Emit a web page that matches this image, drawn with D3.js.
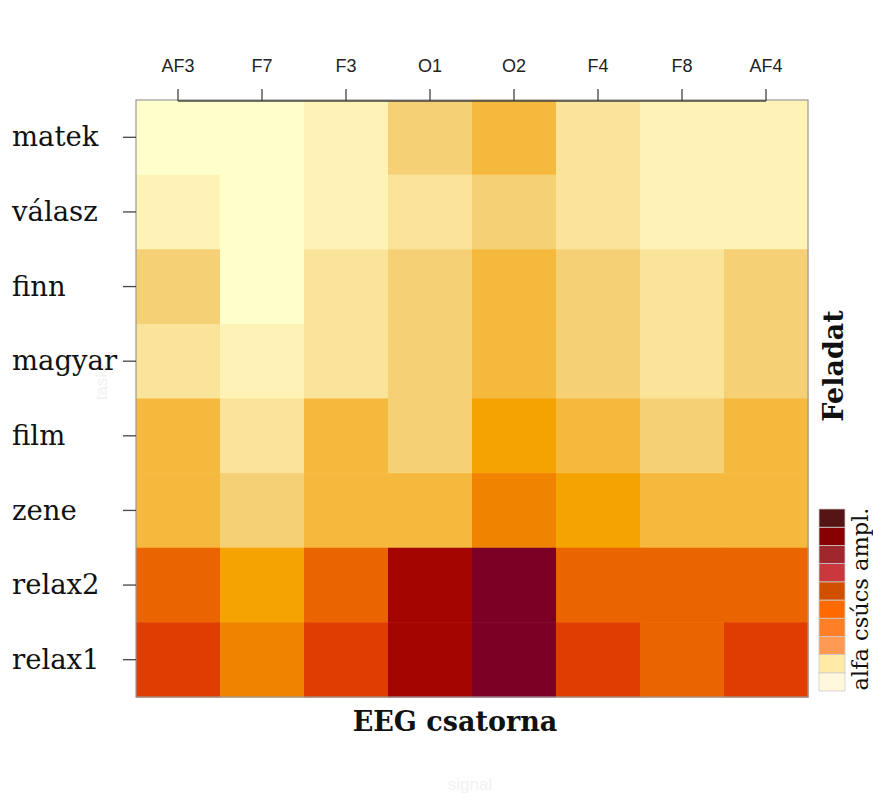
<!DOCTYPE html>
<html>
<head>
<meta charset="utf-8">
<script src="https://cdn.jsdelivr.net/npm/d3@7"></script>
<style>
body { margin: 0; background: #fff; }
</style>
</head>
<body>
<svg id="chart" width="873" height="793"></svg>
<script>
// EEG channels (columns) and tasks (rows)
var channels = ["AF3", "F7", "F3", "O1", "O2", "F4", "F8", "AF4"];
var tasks = ["matek", "válasz", "finn", "magyar", "film", "zene", "relax2", "relax1"];

// alpha peak amplitude level per task, one value per channel
var matek  = [0, 0, 1, 3, 4, 2, 1, 1];
var valasz = [1, 0, 1, 2, 3, 2, 1, 1];
var finn   = [3, 0, 2, 3, 4, 3, 2, 3];
var magyar = [2, 1, 2, 3, 4, 3, 2, 3];
var film   = [4, 2, 4, 3, 5, 4, 3, 4];
var zene   = [4, 3, 4, 4, 6, 5, 4, 4];
var relax2 = [7, 5, 7, 9, 10, 7, 7, 7];
var relax1 = [8, 6, 8, 9, 10, 8, 7, 8];
var rows = [matek, valasz, finn, magyar, film, zene, relax2, relax1];

var cellColors = ["#ffffcc", "#fef3b4", "#fae49a", "#f6d074", "#f5b93e", "#f4a300",
                  "#f08400", "#ea6400", "#e03e00", "#a40500", "#7c0026"];
// legend swatches, bottom to top
var legendColors = ["#fff8dc", "#ffeba5", "#ff9a52", "#ff7f26", "#ff6a00",
                    "#d05000", "#c8383c", "#a0282c", "#880000", "#551515"];

var svg = d3.select("#chart");

var x = d3.scaleBand().domain(channels).range([136, 808]);
var y = d3.scaleBand().domain(tasks).range([100, 697]);
var color = d3.scaleOrdinal().domain(d3.range(cellColors.length)).range(cellColors);

var cells = [];
rows.forEach(function (r, i) {
  r.forEach(function (v, j) {
    cells.push({ task: tasks[i], channel: channels[j], value: v });
  });
});

// faint leftovers in the background
svg.append("text")
  .attr("x", 470).attr("y", 790)
  .attr("text-anchor", "middle")
  .style("font-family", "Liberation Sans, Arial, sans-serif")
  .style("font-size", "17px")
  .style("fill", "#f2f2f2")
  .text("signal");
svg.append("text")
  .attr("transform", "translate(107,380) rotate(-90)")
  .attr("text-anchor", "middle")
  .style("font-family", "Liberation Sans, Arial, sans-serif")
  .style("font-size", "17px")
  .style("fill", "#f2f2f2")
  .text("task2");

svg.append("g")
  .selectAll("rect")
  .data(cells)
  .enter()
  .append("rect")
  .attr("x", function (d) { return x(d.channel) })
  .attr("y", function (d) { return y(d.task) })
  .attr("width", x.bandwidth() + 0.5)
  .attr("height", y.bandwidth() + 0.5)
  .style("fill", function (d) { return color(d.value) });

// plot frame
svg.append("rect")
  .attr("x", 136).attr("y", 100)
  .attr("width", 672).attr("height", 597)
  .style("fill", "none")
  .style("stroke", "#999")
  .style("stroke-width", 1.2);

// top axis
var xAxis = d3.axisTop(x).tickSize(12).tickPadding(17);
var gx = svg.append("g")
  .attr("transform", "translate(0,101)")
  .call(xAxis);
gx.select(".domain").remove();
gx.append("line")
  .attr("x1", x("AF3") + x.bandwidth() / 2)
  .attr("x2", x("AF4") + x.bandwidth() / 2)
  .attr("stroke", "#444").attr("stroke-width", 1.5);
gx.selectAll(".tick line").attr("stroke", "#444").attr("stroke-width", 1.3);
gx.selectAll(".tick text")
  .style("font-family", "Liberation Sans, Arial, sans-serif")
  .style("font-size", "18px")
  .style("fill", "#222");

// left axis
var yAxis = d3.axisLeft(y).tickSize(13).tickFormat("");
var gy = svg.append("g")
  .attr("transform", "translate(136,0)")
  .call(yAxis);
gy.select(".domain").remove();
gy.selectAll(".tick line").attr("stroke", "#444").attr("stroke-width", 1.3);

svg.append("g")
  .selectAll("text")
  .data(tasks)
  .enter()
  .append("text")
  .attr("x", 12)
  .attr("y", function (d) { return y(d) + y.bandwidth() / 2 })
  .attr("dy", "0.33em")
  .style("font-family", "DejaVu Serif, serif")
  .style("font-size", "27.5px")
  .style("fill", "#111")
  .text(function (d) { return d });

// axis titles
svg.append("text")
  .attr("x", 455).attr("y", 731)
  .attr("text-anchor", "middle")
  .style("font-family", "DejaVu Serif, serif")
  .style("font-weight", "bold")
  .style("font-size", "27px")
  .style("fill", "#111")
  .text("EEG csatorna");

svg.append("text")
  .attr("transform", "translate(843,366) rotate(-90)")
  .attr("text-anchor", "middle")
  .style("font-family", "DejaVu Serif, serif")
  .style("font-weight", "bold")
  .style("font-size", "27px")
  .style("fill", "#111")
  .text("Feladat");

// legend
var ly = d3.scaleBand().domain(d3.range(legendColors.length)).range([691, 509]);
svg.append("g")
  .selectAll("rect")
  .data(legendColors)
  .enter()
  .append("rect")
  .attr("x", 819)
  .attr("y", function (d, i) { return ly(i) })
  .attr("width", 26)
  .attr("height", ly.bandwidth())
  .style("fill", function (d) { return d })
  .style("stroke", "#ccc")
  .style("stroke-width", 0.8);

svg.append("text")
  .attr("transform", "translate(868,599) rotate(-90)")
  .attr("text-anchor", "middle")
  .style("font-family", "DejaVu Serif, serif")
  .style("font-size", "22.5px")
  .style("fill", "#111")
  .text("alfa csúcs ampl.");
</script>
</body>
</html>
